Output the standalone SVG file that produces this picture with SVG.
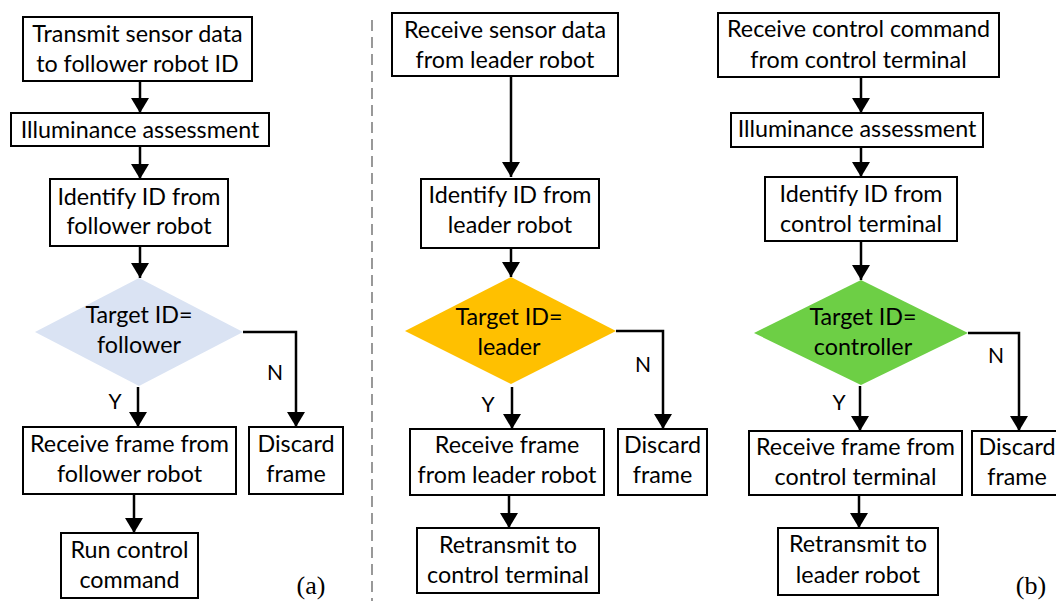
<svg xmlns="http://www.w3.org/2000/svg" width="1056" height="601" viewBox="0 0 1056 601">
<defs>
<marker id="ah" markerUnits="userSpaceOnUse" markerWidth="16" markerHeight="18" refX="15" refY="9" orient="auto">
<path d="M0,0 L15,9 L0,18 z" fill="#000"/>
</marker>
<style>
.box{fill:#fff;stroke:#000;stroke-width:2}
.t{font-family:Lato,"Liberation Sans",sans-serif;font-size:23.3px;fill:#000;text-anchor:middle}
.lbl{font-family:Lato,"Liberation Sans",sans-serif;font-size:21px;fill:#000;text-anchor:middle}
.cap{font-family:"Liberation Serif","DejaVu Serif",serif;font-size:26px;fill:#000;text-anchor:middle}
.c{fill:none;stroke:#000;stroke-width:2.5}
.arr{marker-end:url(#ah)}
</style>
</defs>
<rect width="1056" height="601" fill="#fff"/>
<line x1="372" y1="20" x2="372" y2="601" stroke="#555" stroke-width="1.2" stroke-dasharray="11,6"/>

<g id="connectors">
<path class="c arr" d="M140,81 V113"/>
<path class="c arr" d="M140,146 V179"/>
<path class="c arr" d="M140,246 V278"/>
<path class="c arr" d="M138,387 V427"/>
<path class="c arr" d="M243,332 H296 V427"/>
<path class="c arr" d="M134,494 V533"/>

<path class="c arr" d="M511,76 V177"/>
<path class="c arr" d="M511,248 V277"/>
<path class="c arr" d="M512,387 V429"/>
<path class="c arr" d="M616,331 H663 V429"/>
<path class="c arr" d="M509,495 V528"/>

<path class="c arr" d="M861,77 V113"/>
<path class="c arr" d="M861,147 V177"/>
<path class="c arr" d="M861,241 V280"/>
<path class="c arr" d="M860,386 V431"/>
<path class="c arr" d="M968,333 H1019 V431"/>
<path class="c arr" d="M859,495 V528"/>
</g>

<g id="labels">
<text class="lbl" x="115" y="409">Y</text>
<text class="lbl" x="275" y="380">N</text>
<text class="lbl" x="488" y="412">Y</text>
<text class="lbl" x="643" y="372">N</text>
<text class="lbl" x="839" y="410">Y</text>
<text class="lbl" x="996" y="363">N</text>
<text class="cap" x="311" y="594">(a)</text>
<text class="cap" x="1031" y="594">(b)</text>
</g>

<!-- Panel (a) -->
<g id="a1"><rect class="box" x="23" y="17" width="229" height="64"/>
<text class="t" x="137.5" y="42">Transmit sensor data</text><text class="t" x="137.5" y="72">to follower robot ID</text></g>
<g id="a2"><rect class="box" x="11" y="113" width="258" height="33"/>
<text class="t" x="140" y="138">Illuminance assessment</text></g>
<g id="a3"><rect class="box" x="50" y="179" width="178" height="67"/>
<text class="t" x="139" y="205">Identify ID from</text><text class="t" x="139" y="234">follower robot</text></g>
<g id="a4"><polygon points="139,278 243,332 139,386 35,332" fill="#dae3f3"/>
<text class="t" x="139" y="323">Target ID=</text><text class="t" x="139" y="353">follower</text></g>
<g id="a5"><rect class="box" x="23" y="427" width="213" height="67"/>
<text class="t" x="129.5" y="452">Receive frame from</text><text class="t" x="129.5" y="482">follower robot</text></g>
<g id="a6"><rect class="box" x="249" y="427" width="94" height="67"/>
<text class="t" x="296" y="452">Discard</text><text class="t" x="296" y="482">frame</text></g>
<g id="a7"><rect class="box" x="61" y="533" width="137" height="65"/>
<text class="t" x="129.5" y="558">Run control</text><text class="t" x="129.5" y="588">command</text></g>

<!-- Panel (b) middle -->
<g id="b1"><rect class="box" x="392" y="13" width="226" height="63"/>
<text class="t" x="505" y="38">Receive sensor data</text><text class="t" x="505" y="68">from leader robot</text></g>
<g id="b2"><rect class="box" x="421" y="179" width="178" height="69"/>
<text class="t" x="510" y="203">Identify ID from</text><text class="t" x="510" y="233">leader robot</text></g>
<g id="b3"><polygon points="511,277 616,331 511,384 405,331" fill="#ffc000"/>
<text class="t" x="509" y="325">Target ID=</text><text class="t" x="509" y="355">leader</text></g>
<g id="b4"><rect class="box" x="410" y="429" width="194" height="66"/>
<text class="t" x="507" y="453">Receive frame</text><text class="t" x="507" y="483">from leader robot</text></g>
<g id="b5"><rect class="box" x="618" y="429" width="89" height="66"/>
<text class="t" x="662.5" y="453">Discard</text><text class="t" x="662.5" y="483">frame</text></g>
<g id="b6"><rect class="box" x="417" y="528" width="182" height="65"/>
<text class="t" x="508" y="553">Retransmit to</text><text class="t" x="508" y="583">control terminal</text></g>

<!-- Panel (b) right -->
<g id="c1"><rect class="box" x="718" y="13" width="281" height="64"/>
<text class="t" x="858.5" y="37">Receive control command</text><text class="t" x="858.5" y="68">from control terminal</text></g>
<g id="c2"><rect class="box" x="731" y="113" width="252" height="34"/>
<text class="t" x="857" y="137">Illuminance assessment</text></g>
<g id="c3"><rect class="box" x="765" y="177" width="192" height="64"/>
<text class="t" x="861" y="202">Identify ID from</text><text class="t" x="861" y="232">control terminal</text></g>
<g id="c4"><polygon points="861,280 968,333 861,385 754,333" fill="#6dcf45"/>
<text class="t" x="863" y="325">Target ID=</text><text class="t" x="863" y="355">controller</text></g>
<g id="c5"><rect class="box" x="749" y="431" width="213" height="64"/>
<text class="t" x="855.5" y="455">Receive frame from</text><text class="t" x="855.5" y="485">control terminal</text></g>
<g id="c6"><rect class="box" x="972" y="431" width="92" height="64"/>
<text class="t" x="1017" y="455">Discard</text><text class="t" x="1017" y="485">frame</text></g>
<g id="c7"><rect class="box" x="778" y="528" width="160" height="67"/>
<text class="t" x="858" y="552">Retransmit to</text><text class="t" x="858" y="583">leader robot</text></g>
</svg>
